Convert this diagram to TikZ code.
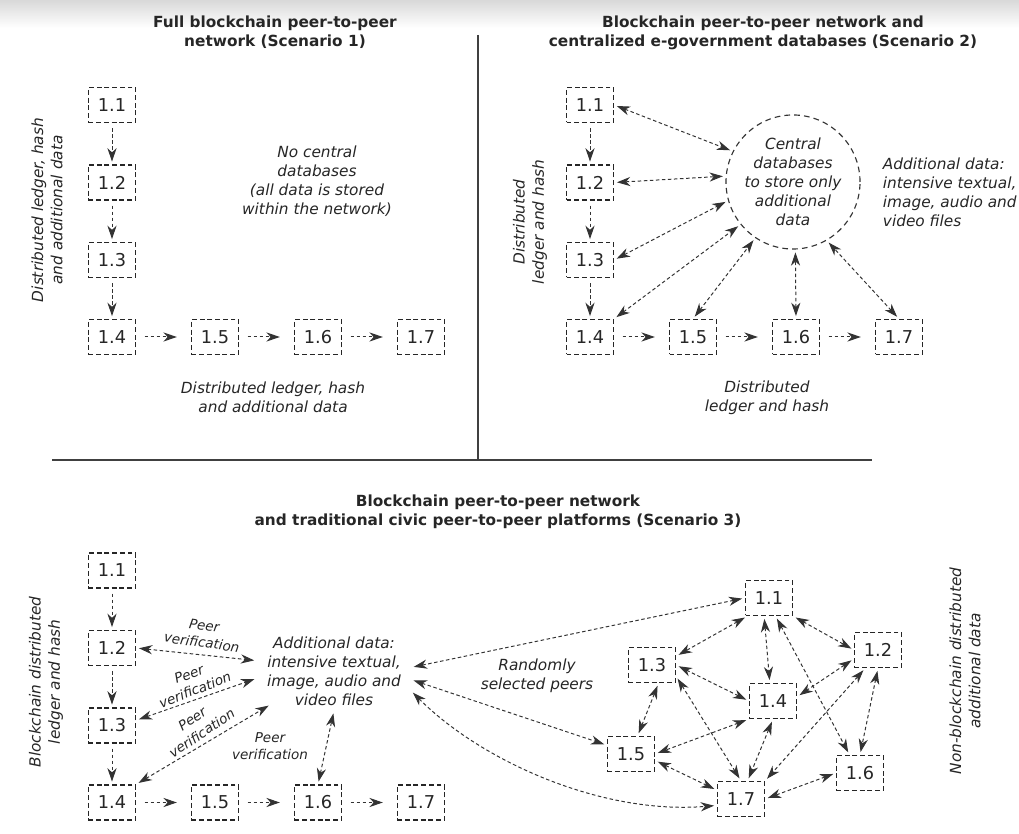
\documentclass[tikz,border=0pt]{standalone}
\usepackage{fontspec}
\setmainfont{DejaVu Sans}
\usetikzlibrary{arrows.meta}

\begin{document}
\begin{tikzpicture}[x=0.025cm, y=0.025cm, >={Stealth[length=9.5pt,width=6.5pt,inset=3pt]},
  every node/.style={text=black!85},
  box/.style={draw=black!85, line width=0.9pt, dash pattern=on 3.5pt off 2pt, minimum width=1.175cm, minimum height=0.875cm, inner sep=0pt, font=\fontsize{12.6}{14}\selectfont},
  txt/.style={align=center, font=\fontsize{10.9}{13.6}\selectfont\itshape},
  ttl/.style={align=center, font=\fontsize{10.9}{13.6}\selectfont\bfseries},
  pv/.style={align=center, font=\fontsize{9.6}{12.2}\selectfont\itshape, inner sep=1pt},
  lnk/.style={draw=black!80, line width=0.7pt, dash pattern=on 2.5pt off 1.8pt, shorten <=2pt, shorten >=2pt},
  dn/.style={lnk, ->, shorten <=3.5pt},
  rt/.style={lnk, ->, shorten <=6pt, shorten >=10pt}]
\useasboundingbox (0,0) rectangle (1019,834);
\fill[white] (0,0) rectangle (1019,834);
\shade[top color=black!15, bottom color=white] (0,806) rectangle (1019,834);
\draw[black!75, line width=0.9pt] (478,799) -- (478,374);
\draw[black!75, line width=0.9pt] (52,374) -- (872,374);

\node[ttl] (t1) at (275,801.5) {Full blockchain peer-to-peer\\network (Scenario 1)};
\node[txt, rotate=90] (s1) at (47,624) {Distributed ledger, hash\\and additional data};
\node[box] (a1) at (112,729) {1.1};
\node[box] (a2) at (112,651.5) {1.2};
\node[box] (a3) at (112,574) {1.3};
\node[box] (a4) at (112,497) {1.4};
\node[box] (a5) at (215,497) {1.5};
\node[box] (a6) at (318,497) {1.6};
\node[box] (a7) at (421,497) {1.7};
\draw[dn] (a1)--(a2);\draw[dn] (a2)--(a3);\draw[dn] (a3)--(a4);
\draw[rt] (a4)--(a5);\draw[rt] (a5)--(a6);\draw[rt] (a6)--(a7);
\node[txt] (n1) at (317,652.5) {No central\\databases\\(all data is stored\\within the network)};
\node[txt] (d1) at (273,436.5) {Distributed ledger, hash\\and additional data};

\node[ttl] (t2) at (763,801.5) {Blockchain peer-to-peer network and\\centralized e-government databases (Scenario 2)};
\node[txt, rotate=90] (s2) at (530,612) {Distributed\\ledger and hash};
\node[box] (b1) at (590,729) {1.1};
\node[box] (b2) at (590,651.5) {1.2};
\node[box] (b3) at (590,574) {1.3};
\node[box] (b4) at (590,497) {1.4};
\node[box] (b5) at (693,497) {1.5};
\node[box] (b6) at (796,497) {1.6};
\node[box] (b7) at (899,497) {1.7};
\node[txt, circle, draw=black!80, line width=0.8pt, dash pattern=on 4pt off 3pt, minimum size=3.35cm, inner sep=0pt] (db) at (793,652) {Central\\databases\\to store only\\additional\\data};
\node[txt, align=left, anchor=west] (ad2) at (878,642) {Additional data:\\intensive textual,\\image, audio and\\video files};
\node[txt] (d2) at (767,436.5) {Distributed\\ledger and hash};
\draw[dn] (b1)--(b2);\draw[dn] (b2)--(b3);\draw[dn] (b3)--(b4);
\draw[rt] (b4)--(b5);\draw[rt] (b5)--(b6);\draw[rt] (b6)--(b7);
\draw[lnk,<->] (b1.east)--(db.153);\draw[lnk,<->] (b2.east)--(db.175);\draw[lnk,<->] (b3.east)--(db.196);
\draw[lnk,<->] (b4.north east)--(db.219);\draw[lnk,<->] (b5.north)--(db.236);
\draw[lnk,<->] (b6.north)--(db.272);\draw[lnk,<->] (b7.north)--(db.300);

\node[ttl] (t3) at (498,322.5) {Blockchain peer-to-peer network\\and traditional civic peer-to-peer platforms (Scenario 3)};
\node[txt, rotate=90] (s3) at (46,152) {Blockchain distributed\\ledger and hash};
\node[box] (c1) at (112,263.5) {1.1};
\node[box] (c2) at (112,186) {1.2};
\node[box] (c3) at (112,108.5) {1.3};
\node[box] (c4) at (112,31.5) {1.4};
\node[box] (c5) at (215,31.5) {1.5};
\node[box] (c6) at (318,31.5) {1.6};
\node[box] (c7) at (421,31.5) {1.7};
\draw[dn] (c1)--(c2);\draw[dn] (c2)--(c3);\draw[dn] (c3)--(c4);
\draw[rt] (c4)--(c5);\draw[rt] (c5)--(c6);\draw[rt] (c6)--(c7);
\node[txt, inner xsep=7pt, inner ysep=3pt] (ad) at (334,162.5) {Additional data:\\intensive textual,\\image, audio and\\video files};
\node[pv, rotate=-8] (pv1) at (203,200) {Peer\\verification};
\node[pv, rotate=21] (pv2) at (192,152) {Peer\\verification};
\node[pv, rotate=34] (pv3) at (197,108) {Peer\\verification};
\node[pv] (pv4) at (270,88) {Peer\\verification};
\draw[lnk,<->] (c2.east)--(ad.172);\draw[lnk,<->] (c3.12)--(ad.185);
\draw[lnk,<->] (c4.north east)--([xshift=10pt]ad.203);\draw[lnk,<->] (c6.north)--(ad.south);

\node[box] (r1) at (769,236) {1.1};
\node[box] (r2) at (878,184) {1.2};
\node[box] (r3) at (652,169) {1.3};
\node[box] (r4) at (773,133) {1.4};
\node[box] (r5) at (631,80) {1.5};
\node[box] (r6) at (860,61) {1.6};
\node[box] (r7) at (741,35) {1.7};
\node[txt] (rp) at (537,158.5) {Randomly\\selected peers};
\node[txt, rotate=90] (s4) at (965,163) {Non-blockchain distributed\\additional data};
\draw[lnk,<->] (ad.3)--(r1.west);\draw[lnk,<->] (ad.354)--(r5.160);
\draw[lnk,<->] (ad.346) .. controls (480,74) and (600,19) .. (r7.195);
\draw[lnk,<->] (r1.220)--(r3.20);\draw[lnk,<->] (r1.255)--(r4.100);
\draw[lnk,<->] (r1.south east)--(r2.west);\draw[lnk,<->] (r1.290)--(r6.120);
\draw[lnk,<->] (r3.east)--(r4.west);\draw[lnk,<->] (r3.290)--(r5.70);
\draw[lnk,<->] (r3.-25)--(r7.north);\draw[lnk,<->] (r2.200)--(r4.10);
\draw[lnk,<->] (r2.235)--(r7.north east);\draw[lnk,<->] (r2.south)--(r6.north);
\draw[lnk,<->] (r4.south west)--(r5.east);\draw[lnk,<->] (r4.south)--(r7.70);
\draw[lnk,<->] (r5.-15)--(r7.160);\draw[lnk,<->] (r6.west)--(r7.east);
\end{tikzpicture}
\end{document}
